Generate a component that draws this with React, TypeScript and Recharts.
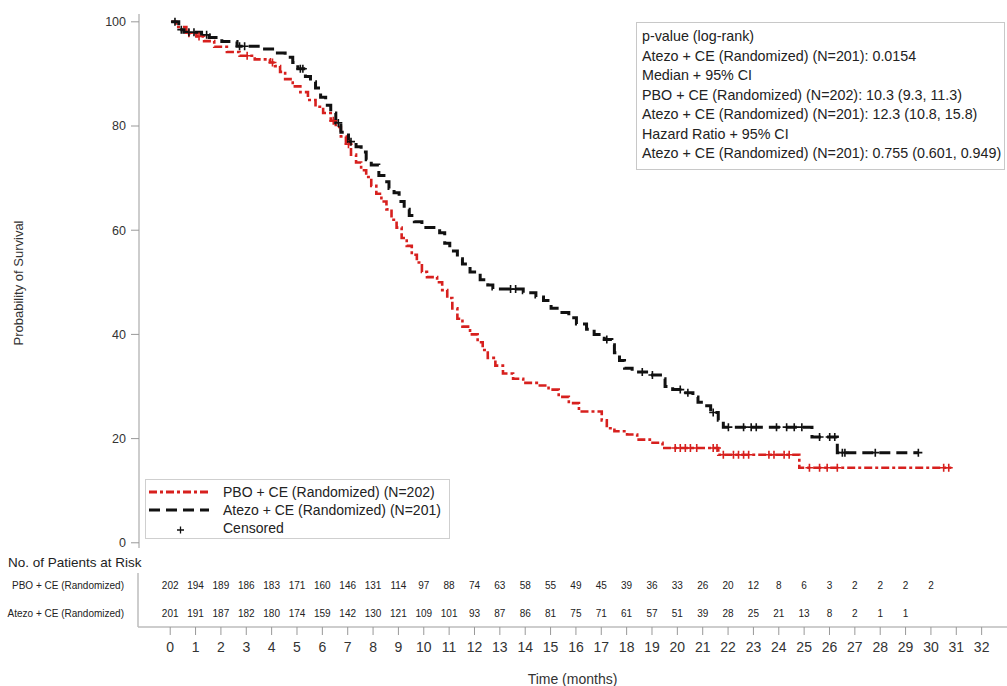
import React from 'react';
import { ComposedChart, Line, Scatter, XAxis, YAxis } from 'recharts';

const FONT = '"Liberation Sans", Arial, sans-serif';
const RED = '#d7201e';
const BLACK = '#111111';
const FRAME = '#bdbdbd';
const X_DOMAIN: [number, number] = [-1.27, 33];

// Kaplan-Meier steps, Atezo + CE
const atezoTime = [0, 0.3, 0.5, 1.2, 1.5, 2.0, 2.6, 3.6, 4.1, 4.5, 4.8, 5.0, 5.3, 5.5, 5.7, 5.9, 6.1, 6.3, 6.5, 6.7, 7.0, 7.3, 7.5, 7.7, 7.9, 8.2, 8.4, 8.6, 8.8, 9.0, 9.2, 9.4, 9.6, 9.9, 10.6, 10.8, 11.0, 11.3, 11.5, 11.8, 12.2, 12.5, 12.7, 13.9, 14.4, 14.7, 15.0, 15.3, 15.7, 16.0, 16.4, 16.7, 17.1, 17.4, 17.5, 17.7, 17.9, 18.2, 18.9, 19.4, 19.5, 19.8, 20.2, 20.6, 20.8, 21.0, 21.3, 21.6, 21.8, 25.3, 26.3, 29.5];
const atezoSurv = [100, 98.5, 98, 97.5, 97, 96.2, 95.3, 94.8, 94, 93.2, 92.2, 91, 89.5, 88.5, 87.3, 85.5, 84, 82.5, 80.6, 78.8, 77, 76, 75, 73.5, 72.5, 70.5, 69.3, 68, 67.2, 65.5, 64, 62.8, 61.6, 60.5, 59.5, 57.5, 56, 54.5, 53.5, 52, 50.5, 49.5, 48.7, 48, 47.2, 46.5, 45, 44.2, 43.2, 42, 41, 40, 39, 38, 36.5, 35, 33.5, 32.8, 32.2, 31.5, 30, 29.4, 28.8, 28, 27, 26.3, 25, 23.5, 22.2, 20.3, 17.3, 17.3];

// Kaplan-Meier steps, PBO + CE
const pboTime = [0, 0.2, 0.6, 1.0, 1.3, 1.7, 2.2, 2.7, 3.3, 3.9, 4.1, 4.3, 4.5, 4.8, 5.1, 5.4, 5.7, 6.0, 6.3, 6.5, 6.7, 6.9, 7.1, 7.3, 7.5, 7.7, 7.9, 8.1, 8.3, 8.5, 8.7, 8.9, 9.1, 9.3, 9.5, 9.7, 9.9, 10.1, 10.5, 10.7, 10.9, 11.1, 11.3, 11.5, 11.8, 12.1, 12.3, 12.5, 12.8, 13.1, 13.5, 13.9, 14.5, 14.9, 15.3, 15.7, 16.1, 17.0, 17.2, 17.5, 18.0, 18.4, 18.9, 19.4, 21.6, 24.8, 30.8];
const pboSurv = [100, 99, 97.8, 97.2, 96.3, 95.2, 94.2, 93.5, 92.8, 92.2, 91.5, 90.4, 89, 87.6, 86.5, 85, 83.7, 82.5, 81, 79.8, 78, 76.5, 74.5, 73, 71.5, 70.2, 68.5, 67, 65.5, 64, 62, 60.5, 58.5, 57, 55.3, 53.8, 52, 51, 50, 48.5, 47, 45, 43, 41.5, 40, 38.5, 37, 35.5, 34, 32.5, 31.5, 30.7, 30.2, 29.4, 28, 26.8, 25.2, 23.5, 22, 21.4, 20.8, 19.8, 19.2, 18.2, 16.9, 14.4, 14.4];

// censored observations
const atezoCensorTime = [0.15, 0.4, 0.7, 0.9, 1.4, 2.7, 2.9, 5.1, 5.2, 6.6, 7.1, 13.4, 13.6, 17.2, 18.6, 19.0, 20.1, 20.4, 21.4, 22.0, 22.6, 22.9, 23.1, 23.9, 24.3, 24.6, 24.9, 25.6, 26.0, 26.2, 26.5, 26.6, 27.8, 29.5];
const atezoCensorSurv = [100, 98.5, 98, 98, 97.5, 95.3, 95.3, 91, 91, 80.6, 77, 48.7, 48.7, 39, 32.8, 32.2, 29.4, 28.8, 25, 22.2, 22.2, 22.2, 22.2, 22.2, 22.2, 22.2, 22.2, 20.3, 20.3, 20.3, 17.3, 17.3, 17.3, 17.3];
const pboCensorTime = [0.7, 1.1, 3.0, 4.0, 6.4, 7.0, 19.9, 20.1, 20.3, 20.5, 20.75, 21.4, 21.55, 21.8, 22.2, 22.4, 22.6, 22.8, 23.6, 23.8, 24.2, 24.4, 25.2, 25.6, 25.9, 26.3, 30.5, 30.7];
const pboCensorSurv = [97.8, 97.2, 93.5, 92.2, 81, 76.5, 18.2, 18.2, 18.2, 18.2, 18.2, 18.2, 18.2, 16.9, 16.9, 16.9, 16.9, 16.9, 16.9, 16.9, 16.9, 16.9, 14.4, 14.4, 14.4, 14.4, 14.4, 14.4];

// at-risk table
const months = Array.from({ length: 33 }, (_, i) => i);
const pboRisk = [202, 194, 189, 186, 183, 171, 160, 146, 131, 114, 97, 88, 74, 63, 58, 55, 49, 45, 39, 36, 33, 26, 20, 12, 8, 6, 3, 2, 2, 2, 2];
const atezoRisk = [201, 191, 187, 182, 180, 174, 159, 142, 130, 121, 109, 101, 93, 87, 86, 81, 75, 71, 61, 57, 51, 39, 28, 25, 21, 13, 8, 2, 1, 1];
const rowNames = ['Atezo + CE (Randomized)', 'PBO + CE (Randomized)'];

const yTicks = [0, 20, 40, 60, 80, 100];
const statsLines = [
  'p-value (log-rank)',
  'Atezo + CE (Randomized) (N=201): 0.0154',
  'Median + 95% CI',
  'PBO + CE (Randomized) (N=202): 10.3 (9.3, 11.3)',
  'Atezo + CE (Randomized) (N=201): 12.3 (10.8, 15.8)',
  'Hazard Ratio + 95% CI',
  'Atezo + CE (Randomized) (N=201): 0.755 (0.601, 0.949)',
];

const zip = (ts: number[], ss: number[]) => ts.map((t, i) => ({ t, s: ss[i] }));
const atezoData = zip(atezoTime, atezoSurv);
const pboData = zip(pboTime, pboSurv);
const atezoCensor = zip(atezoCensorTime, atezoCensorSurv);
const pboCensor = zip(pboCensorTime, pboCensorSurv);
const riskRows = [
  ...pboRisk.map((n, i) => ({ t: months[i], r: 2, n })),
  ...atezoRisk.map((n, i) => ({ t: months[i], r: 1, n })),
];

const RED_DASH = '8 3 3 3';
const BLACK_DASH = '11 6';

const plus = (color: string) => (p: any) => (
  <path
    d={`M${p.cx - 4},${p.cy}h8M${p.cx},${p.cy - 4}v8`}
    stroke={color}
    strokeWidth={1.6}
    fill="none"
  />
);

const riskText = (p: any) => (
  <text
    x={p.cx}
    y={p.cy}
    textAnchor="middle"
    dominantBaseline="central"
    fontSize={10}
    fontFamily={FONT}
    fill="#222"
  >
    {p.payload.n}
  </text>
);

const rowTick = (p: any) => (
  <text
    x={p.x}
    y={p.y}
    textAnchor="end"
    dominantBaseline="central"
    fontSize={10}
    fontFamily={FONT}
    fill="#222"
  >
    {rowNames[p.payload.value - 1]}
  </text>
);

const KMChart = () => (
  <ComposedChart width={1007} height={560} margin={{ top: 14, right: 0, left: 0, bottom: 12 }}>
    <XAxis
      xAxisId="b"
      type="number"
      dataKey="t"
      domain={X_DOMAIN}
      allowDataOverflow
      tick={false}
      tickLine={false}
      height={0}
      axisLine={{ stroke: FRAME, strokeWidth: 1.5 }}
    />
    <XAxis
      xAxisId="top"
      orientation="top"
      type="number"
      dataKey="t"
      domain={X_DOMAIN}
      allowDataOverflow
      tick={false}
      tickLine={false}
      height={0}
      axisLine={{ stroke: FRAME, strokeWidth: 1.5 }}
    />
    <YAxis
      type="number"
      dataKey="s"
      domain={[-1, 101.5]}
      allowDataOverflow
      ticks={yTicks}
      width={139}
      tickSize={8}
      tickMargin={5}
      axisLine={{ stroke: FRAME, strokeWidth: 1.5 }}
      tickLine={{ stroke: '#999' }}
      tick={{ fill: '#333', fontSize: 12.5, fontFamily: FONT }}
    />
    <Line
      xAxisId="b"
      data={pboData}
      dataKey="s"
      type="stepAfter"
      stroke={RED}
      strokeWidth={2.6}
      strokeDasharray={RED_DASH}
      dot={false}
      isAnimationActive={false}
    />
    <Line
      xAxisId="b"
      data={atezoData}
      dataKey="s"
      type="stepAfter"
      stroke={BLACK}
      strokeWidth={3}
      strokeDasharray={BLACK_DASH}
      dot={false}
      isAnimationActive={false}
    />
    <Scatter xAxisId="b" data={pboCensor} dataKey="s" shape={plus(RED)} isAnimationActive={false} />
    <Scatter xAxisId="b" data={atezoCensor} dataKey="s" shape={plus(BLACK)} isAnimationActive={false} />
  </ComposedChart>
);

const RiskChart = () => (
  <ComposedChart width={1007} height={126} margin={{ top: 13, right: 0, left: 0, bottom: 0 }}>
    <XAxis
      xAxisId="b"
      type="number"
      dataKey="t"
      domain={X_DOMAIN}
      allowDataOverflow
      ticks={months}
      interval={0}
      height={59}
      tickSize={8}
      tickMargin={7}
      axisLine={{ stroke: FRAME, strokeWidth: 1.5 }}
      tickLine={{ stroke: '#999' }}
      tick={{ fill: '#333', fontSize: 14, fontFamily: FONT }}
      label={{ value: 'Time (months)', position: 'insideBottom', offset: 2, fill: '#333', fontSize: 14, fontFamily: FONT }}
    />
    <XAxis
      xAxisId="top"
      orientation="top"
      type="number"
      dataKey="t"
      domain={X_DOMAIN}
      allowDataOverflow
      tick={false}
      tickLine={false}
      height={0}
      axisLine={{ stroke: FRAME, strokeWidth: 1.5 }}
    />
    <YAxis
      type="number"
      dataKey="r"
      domain={[0.5, 2.43]}
      allowDataOverflow
      ticks={[1, 2]}
      width={138}
      tickLine={false}
      tickMargin={8}
      axisLine={{ stroke: FRAME, strokeWidth: 1.5 }}
      tick={rowTick}
    />
    <Scatter xAxisId="b" data={riskRows} dataKey="r" shape={riskText} isAnimationActive={false} />
  </ComposedChart>
);

const LegendBox = () => (
  <div
    style={{
      position: 'absolute',
      left: 145,
      top: 479,
      width: 305,
      height: 60,
      border: '1px solid #cfcfcf',
      background: '#fff',
      boxSizing: 'border-box',
      fontSize: 14,
      color: '#222',
    }}
  >
    <svg width={70} height={60} style={{ position: 'absolute', left: 0, top: 0 }}>
      <line x1={3} y1={12} x2={63} y2={12} stroke={RED} strokeWidth={3} strokeDasharray={RED_DASH} />
      <line x1={3} y1={30} x2={63} y2={30} stroke={BLACK} strokeWidth={3} strokeDasharray={BLACK_DASH} />
      <path d="M31,50h7M34.5,46.5v7" stroke={BLACK} strokeWidth={1.3} />
    </svg>
    <div style={{ position: 'absolute', left: 77, top: 3, lineHeight: '18px', whiteSpace: 'nowrap' }}>
      <div>PBO + CE (Randomized) (N=202)</div>
      <div>Atezo + CE (Randomized) (N=201)</div>
      <div>Censored</div>
    </div>
  </div>
);

export default function App() {
  return (
    <div
      style={{
        position: 'absolute',
        left: 0,
        top: 0,
        width: 1007,
        height: 686,
        background: '#fff',
        fontFamily: FONT,
        overflow: 'hidden',
      }}
    >
      <div style={{ position: 'absolute', left: 0, top: 0 }}>
        <KMChart />
      </div>
      <div style={{ position: 'absolute', left: 0, top: 560 }}>
        <RiskChart />
      </div>
      <div
        style={{
          position: 'absolute',
          left: 18,
          top: 283,
          transform: 'translate(-50%, -50%) rotate(-90deg)',
          whiteSpace: 'nowrap',
          fontSize: 13,
          color: '#333',
        }}
      >
        Probability of Survival
      </div>
      <div
        style={{
          position: 'absolute',
          left: 636,
          top: 22,
          width: 369,
          border: '1px solid #c8c8c8',
          background: '#fff',
          boxSizing: 'border-box',
          padding: '4px 2px 5px 5px',
          fontSize: 14.3,
          lineHeight: '19.5px',
          color: '#222',
          whiteSpace: 'nowrap',
        }}
      >
        {statsLines.map((l) => (
          <div key={l}>{l}</div>
        ))}
      </div>
      <LegendBox />
      <div style={{ position: 'absolute', left: 8, top: 555, fontSize: 13.5, color: '#222', whiteSpace: 'nowrap' }}>
        No. of Patients at Risk
      </div>
    </div>
  );
}
